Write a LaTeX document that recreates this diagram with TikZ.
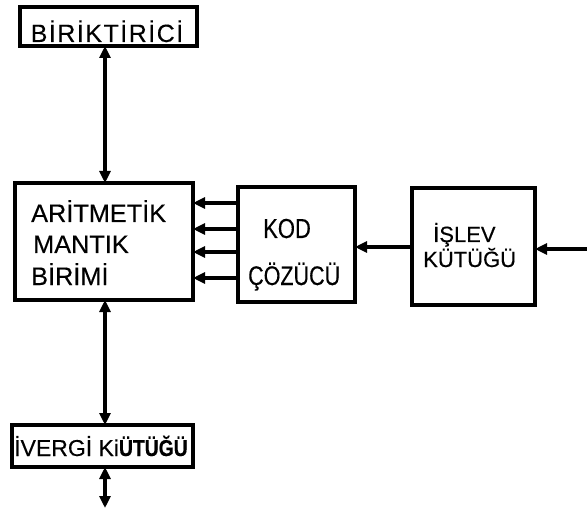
\documentclass[tikz,border=0pt]{standalone}
\usepackage{fontspec}
\setmainfont[FakeBold=0.3]{Liberation Sans}
\newfontfamily\widefont[LetterSpace=6,FakeBold=0.3]{Liberation Sans}
\usetikzlibrary{arrows.meta}
\begin{document}
\begin{tikzpicture}[x=1pt,y=-1pt,
  box/.style={draw,line width=3.8pt,inner sep=0pt,outer sep=0pt},
  lbl/.style={anchor=base west,inner sep=0pt},
  arr/.style={line width=3.2pt,-{Triangle[length=12pt,width=11pt]}},
  darr/.style={line width=3.2pt,{Triangle[length=12pt,width=11pt]}-{Triangle[length=12pt,width=11pt]}}]
\useasboundingbox (0,0) rectangle (587,508);
% boxes
\node[box,minimum width=177pt,minimum height=39pt] (acc) at (108.5,26.5) {};
\node[box,minimum width=178pt,minimum height=117pt] (alu) at (104,241.5) {};
\node[box,minimum width=117pt,minimum height=115pt] (dec) at (296.5,244.5) {};
\node[box,minimum width=123pt,minimum height=117pt] (fn) at (473.5,246.5) {};
\node[box,minimum width=181pt,minimum height=42pt] (ir) at (102.5,446) {};
% texts
\node[anchor=base,inner sep=0pt] (t1) at (107,42) {\widefont\fontsize{25}{25}\selectfont BİRİKTİRİCİ};
\node[lbl] (t2) at (31,222) {\fontsize{25.3}{25}\selectfont ARİTMETİK};
\node[lbl] (t3) at (33,253) {\fontsize{25.3}{25}\selectfont MANTIK};
\node[lbl] (t4) at (31,285) {\fontsize{25.3}{25}\selectfont BİRİMİ};
\node[lbl] (t5) at (263,238) {\fontsize{22}{22}\selectfont\scalebox{1}[1.25]{KOD}};
\node[lbl] (t6) at (248,285) {\fontsize{21.5}{22}\selectfont\scalebox{1}[1.25]{ÇÖZÜCÜ}};
\node[lbl] (t7) at (433,242) {\fontsize{22}{22}\selectfont İŞLEV};
\node[lbl] (t8) at (423,267) {\fontsize{22}{22}\selectfont KÜTÜĞÜ};
\node[lbl] (t9) at (14,456) {\fontsize{23}{23}\selectfont İVERGİ Ki\scalebox{0.84}[1]{\textbf{ÜTÜĞÜ}}};
% connectors
\coordinate (bot) at (105,508);
\coordinate (inr) at (587,249);
\draw[darr] (acc.south -| 105,0) -- (alu.north -| 105,0);
\draw[darr] (alu.south -| 105,0) -- (ir.north -| 105,0);
\draw[darr] (ir.south -| 105,0) -- (bot);
\foreach \yy in {203,229,252,278}
  \draw[arr] (dec.west |- 0,\yy) -- (alu.east |- 0,\yy);
\draw[arr] (fn.west |- 0,247) -- (dec.east |- 0,247);
\draw[arr] (inr) -- (fn.east |- inr);
\end{tikzpicture}
\end{document}
